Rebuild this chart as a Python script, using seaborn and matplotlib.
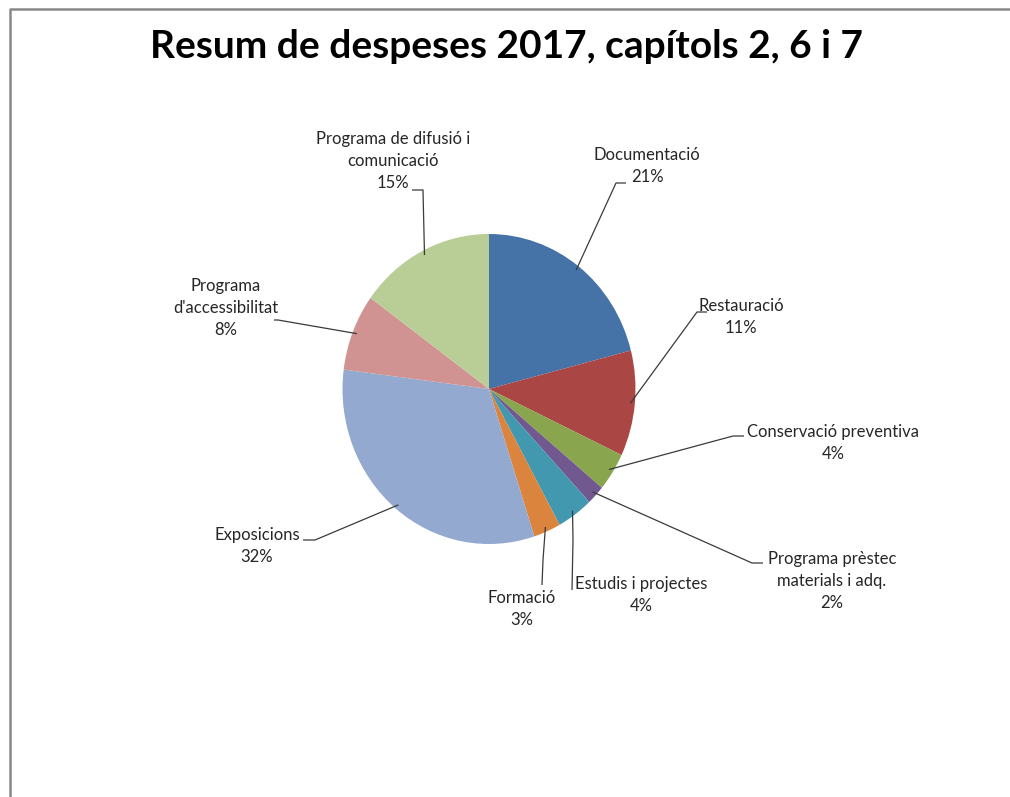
import matplotlib
matplotlib.use("Agg")
import matplotlib.pyplot as plt
import numpy as np
import seaborn as sns

# ---- data ----
categories = [
    "Documentació",
    "Restauració",
    "Conservació preventiva",
    "Programa prèstec\nmaterials i adq.",
    "Estudis i projectes",
    "Formació",
    "Exposicions",
    "Programa\nd'accessibilitat",
    "Programa de difusió i\ncomunicació",
]
values = [21, 11, 4, 2, 4, 3, 32, 8, 15]
colors = ["#4572A7", "#AA4643", "#89A54E", "#71588F", "#4198AF",
          "#DB843D", "#93A9CF", "#D19392", "#B9CD96"]
title = "Resum de despeses 2017, capítols 2, 6 i 7"

# ---- layout (pixel positions, y from top) ----
W, H = 1010, 797
center_px = (489, 389)
radius_px = 155
xsq = 0.945  # the original pie is slightly squeezed horizontally
# label centre, leader elbow, leader end
label_pos = [(647, 166), (741, 317), (833, 443), (832, 581), (641, 595),
             (522, 609), (257, 546), (226, 308), (393, 161)]
elbow_pos = [(616, 183), (697, 312), (733, 436), (752, 563), (573, 540),
             (543, 560), (315, 540), (278, 320), (423, 190)]
end_pos = [(626, 183), (707, 312), (744, 436), (763, 563), (572, 590),
           (542, 585), (303, 540), (274, 320), (412, 190)]

sns.set_theme(style="white")
plt.rcParams["font.family"] = ["Lato", "DejaVu Sans"]

fig = plt.figure(figsize=(W / 100, H / 100), dpi=100)
ax = fig.add_axes([0, 0, 1, 1])


def P(x, y):
    # pixel -> data (pie centre at origin, vertical pixel units)
    return (x - center_px[0]) / xsq, center_px[1] - y


wedges, _ = ax.pie(values, colors=colors, startangle=90, counterclock=False,
                   radius=radius_px, center=(0, 0),
                   wedgeprops=dict(linewidth=0))

for w, lab, v, lp, ep, endp in zip(wedges, categories, values,
                                   label_pos, elbow_pos, end_pos):
    mid = np.deg2rad((w.theta1 + w.theta2) / 2)
    sx = radius_px * 0.97 * np.cos(mid)
    sy = radius_px * 0.97 * np.sin(mid)
    ex, ey = P(*ep)
    tx, ty = P(*endp)
    ax.plot([sx, ex, tx], [sy, ey, ty], color="#3a3a3a", lw=0.9,
            solid_capstyle="butt")
    lx, ly = P(*lp)
    ax.text(lx, ly, f"{lab}\n{v}%", ha="center", va="center",
            multialignment="center", fontsize=12, color="#262626",
            linespacing=1.45)

ax.text(*P(506, 46), title, ha="center", va="center", fontsize=28,
        fontweight="bold", color="black")

# chart frame
fx0, fy0 = P(10, H + 5)
fx1, fy1 = P(10, 9)
fx2, _ = P(W + 5, 9)
ax.plot([fx0, fx1, fx2], [fy0, fy1, fy1], color="#888888", lw=1.8)

xl, _ = P(0, 0)
xr, _ = P(W, 0)
ax.set_aspect("auto")
ax.set_xlim(xl, xr)
ax.set_ylim(center_px[1] - H, center_px[1])
ax.axis("off")

fig.savefig("out.png", dpi=100)
